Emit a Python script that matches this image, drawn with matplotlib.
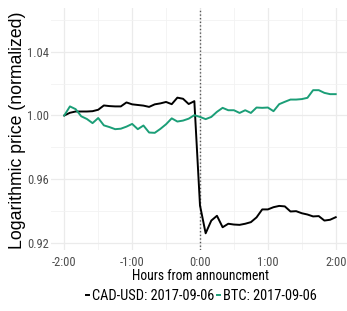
"""Log price around the announcement: CAD-USD vs BTC, normalized to 1 at -2:00."""

from __future__ import annotations

import matplotlib

matplotlib.use("Agg")
import matplotlib.pyplot as plt
from matplotlib.ticker import FixedLocator

# minutes from announcement, 5-minute bars
minutes = list(range(-120, 125, 5))

cad_usd = [
    1.0000, 1.0017, 1.0025, 1.0025, 1.0025, 1.0027, 1.0036, 1.0063, 1.0059, 1.0057,
    1.0057, 1.0082, 1.0070, 1.0066, 1.0062, 1.0054, 1.0070, 1.0076, 1.0085, 1.0071,
    1.0112, 1.0105, 1.0072, 1.0090,
    0.9435, 0.9260, 0.9340, 0.9370, 0.9298, 0.9320, 0.9315, 0.9313, 0.9320, 0.9330,
    0.9360, 0.9410, 0.9410, 0.9424, 0.9432, 0.9429, 0.9397, 0.9399, 0.9386, 0.9378,
    0.9366, 0.9368, 0.9340, 0.9345, 0.9361,
]

btc = [
    1.0000, 1.0057, 1.0040, 0.9995, 0.9978, 0.9952, 0.9984, 0.9938, 0.9927, 0.9914,
    0.9917, 0.9930, 0.9947, 0.9914, 0.9937, 0.9893, 0.9891, 0.9916, 0.9945, 0.9982,
    0.9962, 0.9968, 0.9980, 1.0002,
    0.9991, 0.9977, 0.9991, 1.0023, 1.0048, 1.0033, 1.0033, 1.0016, 1.0033, 1.0016,
    1.0050, 1.0048, 1.0050, 1.0027, 1.0071, 1.0086, 1.0100, 1.0100, 1.0103, 1.0111,
    1.0159, 1.0159, 1.0142, 1.0134, 1.0134,
]

series_labels = ["CAD-USD: 2017-09-06", "BTC: 2017-09-06"]
series_colors = ["#000000", "#1b9e77"]

x_ticks = [-120, -60, 0, 60, 120]
x_tick_labels = ["-2:00", "-1:00", "0:00", "1:00", "2:00"]
x_minor = [-90, -30, 30, 90]
y_ticks = [0.92, 0.96, 1.00, 1.04]
y_tick_labels = ["0.92", "0.96", "1.00", "1.04"]
y_minor = [0.94, 0.98, 1.02, 1.06]

NARROW = ["Roboto Condensed", "Liberation Sans", "DejaVu Sans"]


def main() -> None:
    plt.rcParams["font.family"] = NARROW

    fig = plt.figure(figsize=(3.47, 3.11), dpi=100)
    ax = fig.add_axes([0.1461, 0.1961, 0.8605, 0.7781])

    lines = []
    for values, label, color in zip([cad_usd, btc], series_labels, series_colors):
        (ln,) = ax.plot(minutes, values, color=color, lw=1.4, label=label,
                        solid_joinstyle="round", zorder=3)
        lines.append(ln)

    ax.axvline(0, color="#555555", lw=1.0, linestyle=(0, (1, 1.6)), zorder=2)

    ax.set_xlim(-132, 132)
    ax.set_ylim(0.9155, 1.0675)

    ax.set_xticks(x_ticks)
    ax.set_xticklabels(x_tick_labels)
    ax.xaxis.set_minor_locator(FixedLocator(x_minor))
    ax.set_yticks(y_ticks)
    ax.set_yticklabels(y_tick_labels)
    ax.yaxis.set_minor_locator(FixedLocator(y_minor))

    ax.tick_params(which="both", length=0)
    ax.tick_params(axis="x", pad=4.5, labelsize=9.0, labelcolor="#4d4d4d")
    ax.tick_params(axis="y", pad=1.5, labelsize=9.0, labelcolor="#4d4d4d")

    ax.grid(which="major", color="#ebebeb", lw=0.9)
    ax.grid(which="minor", color="#f2f2f2", lw=0.6)
    ax.set_axisbelow(True)
    for spine in ax.spines.values():
        spine.set_visible(False)

    ax.set_xlabel("Hours from announcment", fontsize=9.8, color="black")
    ax.xaxis.set_label_coords(0.503, -0.08)
    ax.set_ylabel("Logarithmic price (normalized)", fontsize=12.7, color="black",
                  family=["Liberation Sans", "DejaVu Sans"])
    ax.yaxis.set_label_coords(-0.082, 0.496)

    fig.legend(
        handles=lines,
        labels=series_labels,
        loc="center",
        bbox_to_anchor=(201.4 / 347, 1 - 296.5 / 311),
        ncol=2,
        frameon=False,
        fontsize=10.4,
        handlelength=0.2,
        handletextpad=0.2,
        columnspacing=0.2,
        borderpad=0,
        borderaxespad=0,
    )

    fig.savefig("out.png", dpi=100)
    plt.close(fig)


if __name__ == "__main__":
    main()
